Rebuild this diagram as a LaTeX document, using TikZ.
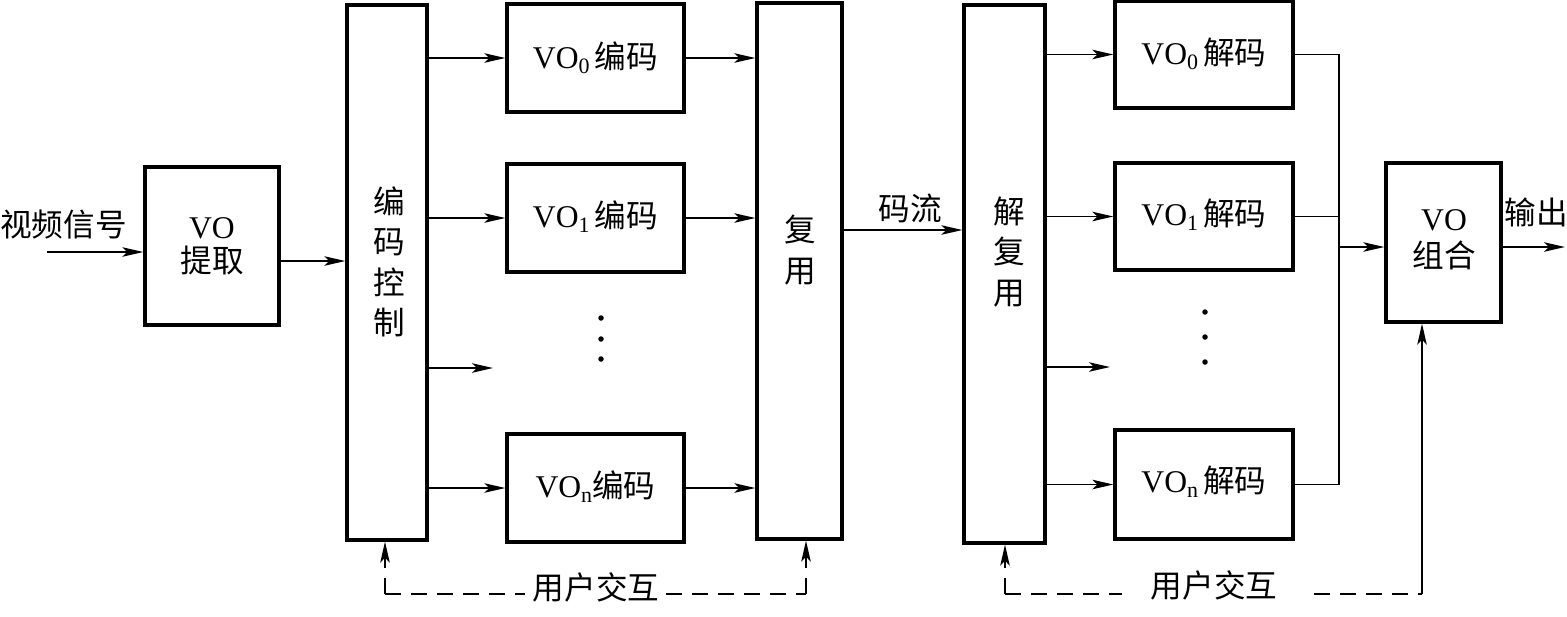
\documentclass[tikz,border=0pt]{standalone}
\usepackage{fontspec}
\setmainfont{Liberation Serif}
\newfontfamily\cjk{Noto Sans CJK SC}
\usetikzlibrary{arrows.meta,calc}
\newcommand{\vosub}[1]{\raisebox{-0.35ex}{\fontsize{12.5}{12.5}\selectfont #1}}
\begin{document}
\begin{tikzpicture}[x=0.02cm,y=-0.02cm,
  blk/.style={draw,line width=1.9pt,inner sep=0pt,font=\fontsize{18}{20}\selectfont},
  ln/.style={line width=1pt},
  arr/.style={line width=1pt,-{Stealth[length=0.42cm,width=0.19cm,inset=0.1cm]}},
  txt/.style={inner sep=0pt,align=center,font=\fontsize{18}{20}\selectfont},
  ctxt/.style={inner sep=0pt,align=center,font=\cjk\fontsize{18}{20}\selectfont},
  vtxt/.style={inner sep=0pt,align=center,font=\cjk\fontsize{18}{23}\selectfont},
  dsh/.style={dash pattern=on 0.32cm off 0.2cm},
  dot/.style={circle,fill,inner sep=0pt,minimum size=0.11cm}]
\useasboundingbox (0,0) rectangle (1567,616);

% ---- boxes ----
\node[blk,minimum width=2.68cm,minimum height=3.16cm] (vo) at (212,246) {};
\node[txt,font=\fontsize{18}{19.5}\selectfont] (vot) at (212,246) {VO\\{\cjk 提取}};
\node[blk,minimum width=1.6cm,minimum height=10.7cm] (ectrl) at (387,272.5) {};
\node[vtxt] (ectrlt) at (389,262) {编\\码\\控\\制};
\node[blk,minimum width=3.54cm,minimum height=2.16cm] (e0) at (595.5,58) {\raisebox{0.12cm}{VO\vosub{0}\,{\cjk 编码}}};
\node[blk,minimum width=3.54cm,minimum height=2.16cm] (e1) at (595.5,218) {\raisebox{0.14cm}{VO\vosub{1}\,{\cjk 编码}}};
\node[blk,minimum width=3.54cm,minimum height=2.16cm] (en) at (595.5,488) {\raisebox{0.14cm}{VO\vosub{n}{\cjk 编码}}};
\node[blk,minimum width=1.7cm,minimum height=10.72cm] (mux) at (799.5,271) {};
\node[vtxt] (muxt) at (800,250) {复\\用};
\node[blk,minimum width=1.62cm,minimum height=10.76cm] (demux) at (1004.5,274) {};
\node[vtxt] (demuxt) at (1009,252) {解\\复\\用};
\node[blk,minimum width=3.56cm,minimum height=2.14cm] (d0) at (1204,54.5) {\raisebox{0.14cm}{VO\vosub{0}\,{\cjk 解码}}};
\node[blk,minimum width=3.56cm,minimum height=2.14cm] (d1) at (1204,216.5) {\raisebox{0.16cm}{VO\vosub{1}\,{\cjk 解码}}};
\node[blk,minimum width=3.56cm,minimum height=2.18cm] (dn) at (1204,484.5) {\raisebox{0.2cm}{VO\vosub{n}\,{\cjk 解码}}};
\node[blk,minimum width=2.3cm,minimum height=3.18cm] (comb) at (1443.5,242.5) {};
\node[txt,font=\fontsize{18}{21}\selectfont] (combt) at (1444,240) {VO\\{\cjk 组合}};

% ---- labels ----
\node[ctxt,anchor=west] (inl) at (0,225) {视频信号};
\node[ctxt] (bsl) at (910,208) {码流};
\node[ctxt] (outl) at (1536,212) {输出};
\node[ctxt] (ui1) at (596,587) {用户交互};
\node[ctxt] (ui2) at (1214,585) {用户交互};

% ---- dots ----
\node[dot] (ld1) at (601,318) {};
\node[dot] (ld2) at (601,339) {};
\node[dot] (ld3) at (601,359) {};
\node[dot] (rd1) at (1205,312) {};
\node[dot] (rd2) at (1205,337) {};
\node[dot] (rd3) at (1205,362) {};

% ---- coordinates ----
\coordinate (in) at (47,252);
\path ($(vo.east)+(0,15)$) coordinate (voout);
\coordinate (edots) at (493,368);
\coordinate (bs) at (900,230);
\coordinate (ddots) at (1110,367);
\coordinate (bus) at (1339,247);
\coordinate (out) at (1565,247);

% ---- connectors ----
\draw[arr] (in) -- (in -| vo.west);
\draw[arr] (voout) -- (voout -| ectrl.west);
\draw[arr] (ectrl.east |- e0) -- (e0.west);
\draw[arr] (ectrl.east |- e1) -- (e1.west);
\draw[arr] (ectrl.east |- edots) -- (edots);
\draw[arr] (ectrl.east |- en) -- (en.west);
\draw[arr] (e0.east) -- (e0.east -| mux.west);
\draw[arr] (e1.east) -- (e1.east -| mux.west);
\draw[arr] (en.east) -- (en.east -| mux.west);
\draw[arr] (bs -| mux.east) -- (bs -| demux.west);
\draw[arr] (demux.east |- d0) -- (d0.west);
\draw[arr] (demux.east |- d1) -- (d1.west);
\draw[arr] (demux.east |- ddots) -- (ddots);
\draw[arr] (demux.east |- dn) -- (dn.west);
\draw[ln] (d0.east) -| (bus);
\draw[ln] (dn.east) -| (bus);
\draw[ln] (d1.east) -- (d1.east -| bus);
\draw[arr] (bus) -- (bus -| comb.west);
\draw[arr] (comb.east |- out) -- (out);

% ---- user interaction ----
\coordinate (uL) at (385,594);
\coordinate (uLa) at (525,594);
\coordinate (uLb) at (666,594);
\coordinate (uLc) at (806,594);
\draw[arr,dsh] (uL) -- (uL |- ectrl.south);
\draw[ln,dsh] (uL) -- (uLa);
\draw[ln,dsh] (uLb) -- (uLc);
\draw[arr,dsh] (uLc) -- (uLc |- mux.south);

\coordinate (uR) at (1005,594);
\coordinate (uRa) at (1122,594);
\coordinate (uRb) at (1314,594);
\coordinate (uRc) at (1422,594);
\draw[arr,dsh] (uR) -- (uR |- demux.south);
\draw[ln,dsh] (uR) -- (uRa);
\draw[ln,dsh] (uRb) -- (uRc);
\draw[arr] (uRc) -- (uRc |- comb.south);
\end{tikzpicture}
\end{document}
